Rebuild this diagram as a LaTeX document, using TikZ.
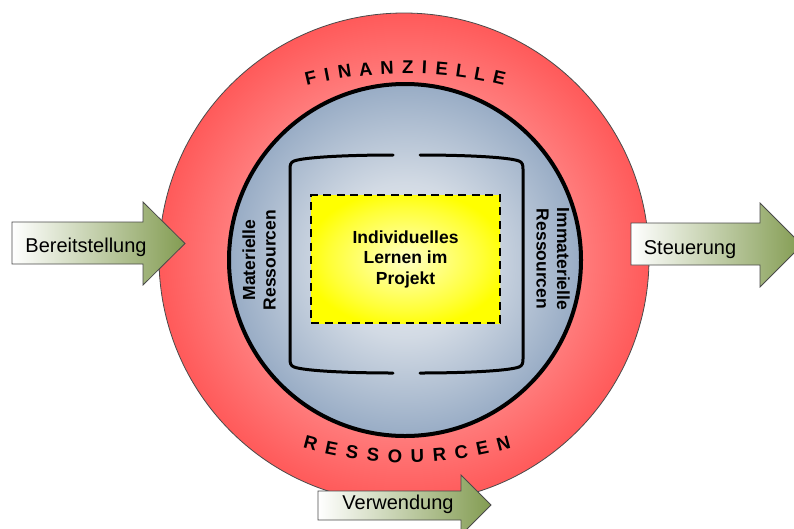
\documentclass[tikz,border=0pt]{standalone}
\usepackage{fontspec}
\setmainfont{Liberation Sans}
\usetikzlibrary{calc}
\definecolor{rA}{HTML}{FF9A9A}
\definecolor{rB}{HTML}{FF7C7C}
\definecolor{rC}{HTML}{FF5A5A}
\definecolor{bA}{HTML}{EEF1F5}
\definecolor{bB}{HTML}{D2DAE4}
\definecolor{bC}{HTML}{98ACC5}
\definecolor{yA}{HTML}{FFFFC4}
\definecolor{yB}{HTML}{FFFF38}
\definecolor{yC}{HTML}{FFFF00}
\definecolor{olive}{HTML}{839C52}
\definecolor{edgegray}{HTML}{4A4A4A}
\pgfdeclareradialshading{redring}{\pgfpointorigin}{color(0bp)=(rA); color(18bp)=(rB); color(25bp)=(rC); color(50bp)=(rC)}
\pgfdeclareradialshading{bluedisc}{\pgfpointorigin}{color(0bp)=(bA); color(11bp)=(bB); color(25bp)=(bC); color(50bp)=(bC)}
\pgfdeclareradialshading{yellowbox}{\pgfpointorigin}{color(0bp)=(yA); color(20bp)=(yB); color(27bp)=(yC); color(50bp)=(yC)}
\begin{document}
\begin{tikzpicture}[x=1pt,y=-1pt,
  arcletter/.style={inner sep=0pt, text height=13pt, text depth=0pt, font=\bfseries\fontsize{18.5}{20}\selectfont},
  sidelabel/.style={align=center, inner sep=0pt, font=\bfseries\fontsize{17.5}{20.5}\selectfont},
  arrowshape/.style={draw=edgegray, line width=0.8pt, left color=white, right color=olive},
  arrowtext/.style={anchor=base, inner sep=0pt, font=\fontsize{20}{24}\selectfont},
  bracketline/.style={line width=3pt, line cap=round, line join=round}]
\useasboundingbox (0,0) rectangle (794,528);
% outer red ring
\node[circle, minimum size=490pt, inner sep=0pt, shading=redring, draw=edgegray, line width=0.8pt] (outer) at (404,258) {};
% inner blue disc
\node[circle, minimum size=352pt, inner sep=0pt, shading=bluedisc, draw=black, line width=4pt] (inner) at (405,260) {};
% brackets
\draw[bracketline] (393,155) .. controls (350,155) and (305,157) .. (294,161) .. controls (290.5,162.5) and (290,165) .. (290,169) -- (290,359) .. controls (290,363) and (290.5,365.5) .. (294,367) .. controls (305,371) and (350,373) .. (393,373);
\draw[bracketline] (420,155) .. controls (463,155) and (508,157) .. (519,161) .. controls (522.5,162.5) and (523,165) .. (523,169) -- (523,359) .. controls (523,363) and (522.5,365.5) .. (519,367) .. controls (508,371) and (463,373) .. (420,373);
% central box
\node[shading=yellowbox, draw=black, line width=2.5pt, dash pattern=on 8pt off 5.5pt,
      minimum width=189pt, minimum height=128pt, inner sep=0pt, align=center,
      font=\bfseries\fontsize{17.5}{20.5}\selectfont] (lernen) at (405.5,259) {Individuelles\\Lernen im\\Projekt};
% side labels
\node[sidelabel, rotate=90] (materiell) at (259,260) {Materielle\\Ressourcen};
\node[sidelabel, rotate=-90] (immateriell) at (553,259) {Immaterielle\\Ressourcen};
% arc texts
\foreach \l/\a [count=\i] in {F/103.37, I/101.02, N/98.52, A/95.53, N/92.53, Z/89.61, I/87.25, E/84.83, L/82.04, L/79.40, E/76.62}
  \node[arcletter, rotate=\a-90] (fin\i) at ({405+408*cos(\a)},{475-408*sin(\a)}) {\l};
\foreach \l/\a [count=\i] in {R/254.82, E/258.17, S/261.44, S/264.71, O/268.13, U/271.63, R/275.06, C/278.49, E/281.83, N/285.18}
  \node[arcletter, rotate=\a-270] (res\i) at ({407+368*cos(\a)},{88-368*sin(\a)}) {\l};
% arrows
\path[arrowshape] (12,222) -- (143,222) -- (143,202) -- (185,243.5) -- (143,285) -- (143,264) -- (12,264) -- cycle;
\node[arrowtext] (bereit) at (86,252) {Bereitstellung};
\path[arrowshape] (631,223) -- (760,223) -- (760,203) -- (802,245) -- (760,287) -- (760,265) -- (631,265) -- cycle;
\node[arrowtext] (steuer) at (690,254) {Steuerung};
\path[arrowshape] (318,491) -- (461,491) -- (461,475) -- (491,505) -- (461,535) -- (461,520) -- (318,520) -- cycle;
\node[arrowtext] (verw) at (398,509) {Verwendung};
\end{tikzpicture}
\end{document}
